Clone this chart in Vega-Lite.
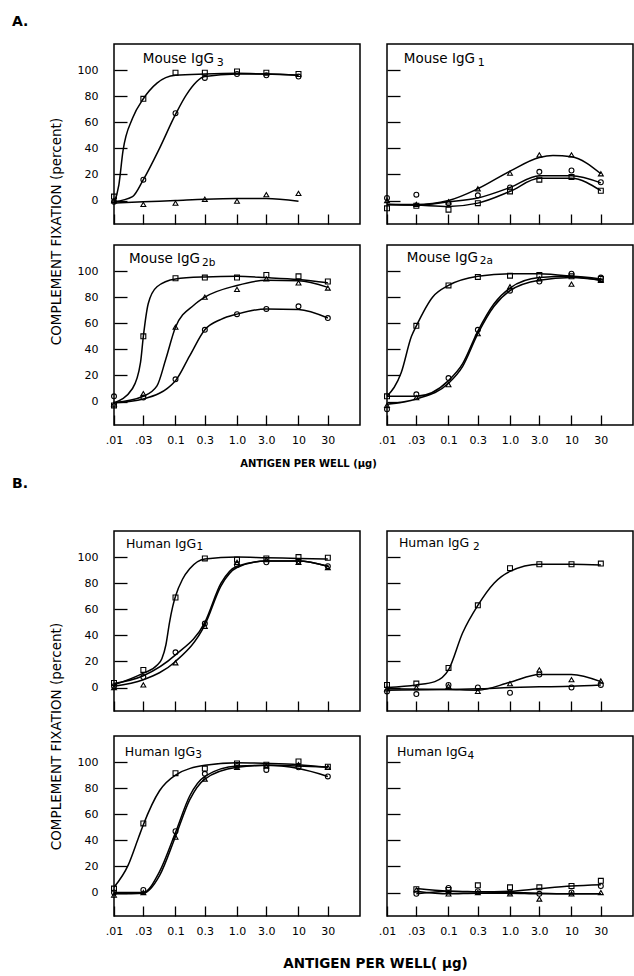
{
"$schema":"https://vega.github.io/schema/vega-lite/v6.json",
"padding":{"left":12,"top":14,"right":1,"bottom":2},
"datasets":{
"tags":[
{"panel":"A1","lab":"Mouse IgG","subs":"3"},{"panel":"A2","lab":"Mouse IgG","subs":"1"},{"panel":"A3","lab":"Mouse IgG","subs":"2b"},{"panel":"A4","lab":"Mouse IgG","subs":"2a"},
{"panel":"B1","lab":"Human IgG","subs":"1"},{"panel":"B2","lab":"Human IgG","subs":"2"},{"panel":"B3","lab":"Human IgG","subs":"3"},{"panel":"B4","lab":"Human IgG","subs":"4"}],
"pts":[
{"panel":"A1","series":"sq","dose":0.01,"pct":3},{"panel":"A1","series":"sq","dose":0.03,"pct":78},{"panel":"A1","series":"sq","dose":0.1,"pct":98},{"panel":"A1","series":"sq","dose":0.3,"pct":98},{"panel":"A1","series":"sq","dose":1,"pct":99},{"panel":"A1","series":"sq","dose":3,"pct":98},{"panel":"A1","series":"sq","dose":10,"pct":97},
{"panel":"A1","series":"ci","dose":0.01,"pct":-1},{"panel":"A1","series":"ci","dose":0.03,"pct":16},{"panel":"A1","series":"ci","dose":0.1,"pct":67},{"panel":"A1","series":"ci","dose":0.3,"pct":94},{"panel":"A1","series":"ci","dose":1,"pct":97},{"panel":"A1","series":"ci","dose":3,"pct":96},{"panel":"A1","series":"ci","dose":10,"pct":95},
{"panel":"A1","series":"tr","dose":0.01,"pct":0},{"panel":"A1","series":"tr","dose":0.03,"pct":-3},{"panel":"A1","series":"tr","dose":0.1,"pct":-2},{"panel":"A1","series":"tr","dose":0.3,"pct":1},{"panel":"A1","series":"tr","dose":1,"pct":-0.5},{"panel":"A1","series":"tr","dose":3,"pct":4.5},{"panel":"A1","series":"tr","dose":10,"pct":5.5},
{"panel":"A2","series":"tr","dose":0.01,"pct":0},{"panel":"A2","series":"tr","dose":0.03,"pct":-3},{"panel":"A2","series":"tr","dose":0.1,"pct":-1},{"panel":"A2","series":"tr","dose":0.3,"pct":9},{"panel":"A2","series":"tr","dose":1,"pct":21},{"panel":"A2","series":"tr","dose":3,"pct":35},{"panel":"A2","series":"tr","dose":10,"pct":35},{"panel":"A2","series":"tr","dose":30,"pct":20.5},
{"panel":"A2","series":"ci","dose":0.01,"pct":2},{"panel":"A2","series":"ci","dose":0.03,"pct":4.5},{"panel":"A2","series":"ci","dose":0.1,"pct":-2},{"panel":"A2","series":"ci","dose":0.3,"pct":4},{"panel":"A2","series":"ci","dose":1,"pct":10},{"panel":"A2","series":"ci","dose":3,"pct":22},{"panel":"A2","series":"ci","dose":10,"pct":23},{"panel":"A2","series":"ci","dose":30,"pct":14},
{"panel":"A2","series":"sq","dose":0.01,"pct":-6},{"panel":"A2","series":"sq","dose":0.03,"pct":-4},{"panel":"A2","series":"sq","dose":0.1,"pct":-7},{"panel":"A2","series":"sq","dose":0.3,"pct":-2},{"panel":"A2","series":"sq","dose":1,"pct":7},{"panel":"A2","series":"sq","dose":3,"pct":16},{"panel":"A2","series":"sq","dose":10,"pct":18},{"panel":"A2","series":"sq","dose":30,"pct":7.5},
{"panel":"A3","series":"sq","dose":0.01,"pct":-3},{"panel":"A3","series":"sq","dose":0.03,"pct":50},{"panel":"A3","series":"sq","dose":0.1,"pct":94.5},{"panel":"A3","series":"sq","dose":0.3,"pct":95},{"panel":"A3","series":"sq","dose":1,"pct":95},{"panel":"A3","series":"sq","dose":3,"pct":97},{"panel":"A3","series":"sq","dose":10,"pct":96},{"panel":"A3","series":"sq","dose":30,"pct":92},
{"panel":"A3","series":"tr","dose":0.01,"pct":-2},{"panel":"A3","series":"tr","dose":0.03,"pct":6},{"panel":"A3","series":"tr","dose":0.1,"pct":57},{"panel":"A3","series":"tr","dose":0.3,"pct":80},{"panel":"A3","series":"tr","dose":1,"pct":86},{"panel":"A3","series":"tr","dose":3,"pct":94},{"panel":"A3","series":"tr","dose":10,"pct":91},{"panel":"A3","series":"tr","dose":30,"pct":87},
{"panel":"A3","series":"ci","dose":0.01,"pct":4},{"panel":"A3","series":"ci","dose":0.03,"pct":3},{"panel":"A3","series":"ci","dose":0.1,"pct":17},{"panel":"A3","series":"ci","dose":0.3,"pct":55},{"panel":"A3","series":"ci","dose":1,"pct":67},{"panel":"A3","series":"ci","dose":3,"pct":71},{"panel":"A3","series":"ci","dose":10,"pct":73},{"panel":"A3","series":"ci","dose":30,"pct":64},
{"panel":"A4","series":"sq","dose":0.01,"pct":4},{"panel":"A4","series":"sq","dose":0.03,"pct":58},{"panel":"A4","series":"sq","dose":0.1,"pct":89},{"panel":"A4","series":"sq","dose":0.3,"pct":95.5},{"panel":"A4","series":"sq","dose":1,"pct":96.5},{"panel":"A4","series":"sq","dose":3,"pct":97},{"panel":"A4","series":"sq","dose":10,"pct":96},{"panel":"A4","series":"sq","dose":30,"pct":94},
{"panel":"A4","series":"ci","dose":0.01,"pct":-6},{"panel":"A4","series":"ci","dose":0.03,"pct":5.5},{"panel":"A4","series":"ci","dose":0.1,"pct":18},{"panel":"A4","series":"ci","dose":0.3,"pct":55},{"panel":"A4","series":"ci","dose":1,"pct":85},{"panel":"A4","series":"ci","dose":3,"pct":92},{"panel":"A4","series":"ci","dose":10,"pct":98},{"panel":"A4","series":"ci","dose":30,"pct":95},
{"panel":"A4","series":"tr","dose":0.01,"pct":-3},{"panel":"A4","series":"tr","dose":0.03,"pct":3},{"panel":"A4","series":"tr","dose":0.1,"pct":13},{"panel":"A4","series":"tr","dose":0.3,"pct":52},{"panel":"A4","series":"tr","dose":1,"pct":88},{"panel":"A4","series":"tr","dose":3,"pct":94},{"panel":"A4","series":"tr","dose":10,"pct":90},{"panel":"A4","series":"tr","dose":30,"pct":93},
{"panel":"B1","series":"sq","dose":0.01,"pct":3.5},{"panel":"B1","series":"sq","dose":0.03,"pct":13.5},{"panel":"B1","series":"sq","dose":0.1,"pct":69},{"panel":"B1","series":"sq","dose":0.3,"pct":99},{"panel":"B1","series":"sq","dose":1,"pct":98},{"panel":"B1","series":"sq","dose":3,"pct":99},{"panel":"B1","series":"sq","dose":10,"pct":100},{"panel":"B1","series":"sq","dose":30,"pct":99.5},
{"panel":"B1","series":"ci","dose":0.01,"pct":1},{"panel":"B1","series":"ci","dose":0.03,"pct":8},{"panel":"B1","series":"ci","dose":0.1,"pct":27},{"panel":"B1","series":"ci","dose":0.3,"pct":49},{"panel":"B1","series":"ci","dose":1,"pct":94},{"panel":"B1","series":"ci","dose":3,"pct":96},{"panel":"B1","series":"ci","dose":10,"pct":97},{"panel":"B1","series":"ci","dose":30,"pct":93},
{"panel":"B1","series":"tr","dose":0.01,"pct":0},{"panel":"B1","series":"tr","dose":0.03,"pct":2},{"panel":"B1","series":"tr","dose":0.1,"pct":19},{"panel":"B1","series":"tr","dose":0.3,"pct":47},{"panel":"B1","series":"tr","dose":1,"pct":96},{"panel":"B1","series":"tr","dose":3,"pct":98},{"panel":"B1","series":"tr","dose":10,"pct":96},{"panel":"B1","series":"tr","dose":30,"pct":92},
{"panel":"B2","series":"sq","dose":0.01,"pct":2},{"panel":"B2","series":"sq","dose":0.03,"pct":3},{"panel":"B2","series":"sq","dose":0.1,"pct":15},{"panel":"B2","series":"sq","dose":0.3,"pct":63},{"panel":"B2","series":"sq","dose":1,"pct":91.5},{"panel":"B2","series":"sq","dose":3,"pct":94.5},{"panel":"B2","series":"sq","dose":10,"pct":94.5},{"panel":"B2","series":"sq","dose":30,"pct":95},
{"panel":"B2","series":"tr","dose":0.01,"pct":-1},{"panel":"B2","series":"tr","dose":0.03,"pct":0},{"panel":"B2","series":"tr","dose":0.1,"pct":1},{"panel":"B2","series":"tr","dose":0.3,"pct":-3},{"panel":"B2","series":"tr","dose":1,"pct":3},{"panel":"B2","series":"tr","dose":3,"pct":13.5},{"panel":"B2","series":"tr","dose":10,"pct":6},{"panel":"B2","series":"tr","dose":30,"pct":5},
{"panel":"B2","series":"ci","dose":0.01,"pct":-3},{"panel":"B2","series":"ci","dose":0.03,"pct":-5},{"panel":"B2","series":"ci","dose":0.1,"pct":2},{"panel":"B2","series":"ci","dose":0.3,"pct":0},{"panel":"B2","series":"ci","dose":1,"pct":-4},{"panel":"B2","series":"ci","dose":3,"pct":10},{"panel":"B2","series":"ci","dose":10,"pct":0},{"panel":"B2","series":"ci","dose":30,"pct":2},
{"panel":"B3","series":"sq","dose":0.01,"pct":3},{"panel":"B3","series":"sq","dose":0.03,"pct":53},{"panel":"B3","series":"sq","dose":0.1,"pct":91.5},{"panel":"B3","series":"sq","dose":0.3,"pct":95},{"panel":"B3","series":"sq","dose":1,"pct":99},{"panel":"B3","series":"sq","dose":3,"pct":98},{"panel":"B3","series":"sq","dose":10,"pct":100.5},{"panel":"B3","series":"sq","dose":30,"pct":96.5},
{"panel":"B3","series":"ci","dose":0.01,"pct":0},{"panel":"B3","series":"ci","dose":0.03,"pct":2},{"panel":"B3","series":"ci","dose":0.1,"pct":47},{"panel":"B3","series":"ci","dose":0.3,"pct":91},{"panel":"B3","series":"ci","dose":1,"pct":97},{"panel":"B3","series":"ci","dose":3,"pct":94},{"panel":"B3","series":"ci","dose":10,"pct":96},{"panel":"B3","series":"ci","dose":30,"pct":89},
{"panel":"B3","series":"tr","dose":0.01,"pct":-2},{"panel":"B3","series":"tr","dose":0.03,"pct":0},{"panel":"B3","series":"tr","dose":0.1,"pct":42.5},{"panel":"B3","series":"tr","dose":0.3,"pct":87},{"panel":"B3","series":"tr","dose":1,"pct":96},{"panel":"B3","series":"tr","dose":3,"pct":97},{"panel":"B3","series":"tr","dose":10,"pct":98},{"panel":"B3","series":"tr","dose":30,"pct":96},
{"panel":"B4","series":"sq","dose":0.03,"pct":2.5},{"panel":"B4","series":"sq","dose":0.1,"pct":2},{"panel":"B4","series":"sq","dose":0.3,"pct":5.5},{"panel":"B4","series":"sq","dose":1,"pct":4},{"panel":"B4","series":"sq","dose":3,"pct":4},{"panel":"B4","series":"sq","dose":10,"pct":5},{"panel":"B4","series":"sq","dose":30,"pct":9},
{"panel":"B4","series":"ci","dose":0.03,"pct":-1},{"panel":"B4","series":"ci","dose":0.1,"pct":3.5},{"panel":"B4","series":"ci","dose":0.3,"pct":1},{"panel":"B4","series":"ci","dose":1,"pct":0},{"panel":"B4","series":"ci","dose":3,"pct":-1},{"panel":"B4","series":"ci","dose":10,"pct":0},{"panel":"B4","series":"ci","dose":30,"pct":5},
{"panel":"B4","series":"tr","dose":0.03,"pct":2},{"panel":"B4","series":"tr","dose":0.1,"pct":-1},{"panel":"B4","series":"tr","dose":0.3,"pct":0},{"panel":"B4","series":"tr","dose":1,"pct":-1},{"panel":"B4","series":"tr","dose":3,"pct":-5},{"panel":"B4","series":"tr","dose":10,"pct":-1},{"panel":"B4","series":"tr","dose":30,"pct":0}
],
"curves":[
{"panel":"A1","series":"sq","dose":0.01,"pct":-2},{"panel":"A1","series":"sq","dose":0.012,"pct":12},{"panel":"A1","series":"sq","dose":0.014,"pct":38},{"panel":"A1","series":"sq","dose":0.02,"pct":63},{"panel":"A1","series":"sq","dose":0.03,"pct":78},{"panel":"A1","series":"sq","dose":0.05,"pct":90},{"panel":"A1","series":"sq","dose":0.1,"pct":96},{"panel":"A1","series":"sq","dose":0.3,"pct":97},{"panel":"A1","series":"sq","dose":1,"pct":97.5},{"panel":"A1","series":"sq","dose":3,"pct":97},{"panel":"A1","series":"sq","dose":10,"pct":96},
{"panel":"A1","series":"ci","dose":0.01,"pct":-1},{"panel":"A1","series":"ci","dose":0.02,"pct":3},{"panel":"A1","series":"ci","dose":0.03,"pct":16},{"panel":"A1","series":"ci","dose":0.055,"pct":40},{"panel":"A1","series":"ci","dose":0.1,"pct":66},{"panel":"A1","series":"ci","dose":0.15,"pct":81},{"panel":"A1","series":"ci","dose":0.3,"pct":95},{"panel":"A1","series":"ci","dose":1,"pct":97},{"panel":"A1","series":"ci","dose":3,"pct":97},{"panel":"A1","series":"ci","dose":10,"pct":96},
{"panel":"A1","series":"tr","dose":0.01,"pct":-2},{"panel":"A1","series":"tr","dose":0.03,"pct":-1},{"panel":"A1","series":"tr","dose":0.1,"pct":0},{"panel":"A1","series":"tr","dose":0.3,"pct":1},{"panel":"A1","series":"tr","dose":1,"pct":1.5},{"panel":"A1","series":"tr","dose":3,"pct":1.5},{"panel":"A1","series":"tr","dose":10,"pct":-0.5},
{"panel":"A2","series":"tr","dose":0.01,"pct":-3},{"panel":"A2","series":"tr","dose":0.03,"pct":-3},{"panel":"A2","series":"tr","dose":0.1,"pct":0},{"panel":"A2","series":"tr","dose":0.3,"pct":9},{"panel":"A2","series":"tr","dose":1,"pct":22.5},{"panel":"A2","series":"tr","dose":3,"pct":33},{"panel":"A2","series":"tr","dose":5,"pct":34.5},{"panel":"A2","series":"tr","dose":10,"pct":33.5},{"panel":"A2","series":"tr","dose":30,"pct":20.5},
{"panel":"A2","series":"ci","dose":0.01,"pct":-3},{"panel":"A2","series":"ci","dose":0.03,"pct":-3.5},{"panel":"A2","series":"ci","dose":0.1,"pct":-1},{"panel":"A2","series":"ci","dose":0.3,"pct":2},{"panel":"A2","series":"ci","dose":1,"pct":10},{"panel":"A2","series":"ci","dose":3,"pct":19},{"panel":"A2","series":"ci","dose":10,"pct":19},{"panel":"A2","series":"ci","dose":30,"pct":13.5},
{"panel":"A2","series":"sq","dose":0.01,"pct":-3},{"panel":"A2","series":"sq","dose":0.03,"pct":-3.5},{"panel":"A2","series":"sq","dose":0.1,"pct":-4.5},{"panel":"A2","series":"sq","dose":0.3,"pct":-2},{"panel":"A2","series":"sq","dose":1,"pct":7},{"panel":"A2","series":"sq","dose":3,"pct":17},{"panel":"A2","series":"sq","dose":10,"pct":17},{"panel":"A2","series":"sq","dose":30,"pct":7.5},
{"panel":"A3","series":"sq","dose":0.01,"pct":-1},{"panel":"A3","series":"sq","dose":0.02,"pct":10},{"panel":"A3","series":"sq","dose":0.027,"pct":30},{"panel":"A3","series":"sq","dose":0.03,"pct":50},{"panel":"A3","series":"sq","dose":0.036,"pct":75},{"panel":"A3","series":"sq","dose":0.05,"pct":88},{"panel":"A3","series":"sq","dose":0.1,"pct":94},{"panel":"A3","series":"sq","dose":0.3,"pct":95.5},{"panel":"A3","series":"sq","dose":1,"pct":96},{"panel":"A3","series":"sq","dose":3,"pct":95},{"panel":"A3","series":"sq","dose":10,"pct":93.5},{"panel":"A3","series":"sq","dose":30,"pct":91},
{"panel":"A3","series":"tr","dose":0.01,"pct":-1},{"panel":"A3","series":"tr","dose":0.03,"pct":4},{"panel":"A3","series":"tr","dose":0.05,"pct":12},{"panel":"A3","series":"tr","dose":0.07,"pct":33},{"panel":"A3","series":"tr","dose":0.1,"pct":57},{"panel":"A3","series":"tr","dose":0.2,"pct":74},{"panel":"A3","series":"tr","dose":0.3,"pct":80},{"panel":"A3","series":"tr","dose":1,"pct":89},{"panel":"A3","series":"tr","dose":3,"pct":93},{"panel":"A3","series":"tr","dose":10,"pct":92.5},{"panel":"A3","series":"tr","dose":30,"pct":87.5},
{"panel":"A3","series":"ci","dose":0.01,"pct":-1},{"panel":"A3","series":"ci","dose":0.03,"pct":2},{"panel":"A3","series":"ci","dose":0.1,"pct":16},{"panel":"A3","series":"ci","dose":0.17,"pct":35},{"panel":"A3","series":"ci","dose":0.3,"pct":55},{"panel":"A3","series":"ci","dose":0.55,"pct":63},{"panel":"A3","series":"ci","dose":1,"pct":67},{"panel":"A3","series":"ci","dose":3,"pct":71},{"panel":"A3","series":"ci","dose":10,"pct":70.5},{"panel":"A3","series":"ci","dose":30,"pct":64},
{"panel":"A4","series":"sq","dose":0.01,"pct":4},{"panel":"A4","series":"sq","dose":0.017,"pct":22},{"panel":"A4","series":"sq","dose":0.025,"pct":50},{"panel":"A4","series":"sq","dose":0.03,"pct":58},{"panel":"A4","series":"sq","dose":0.055,"pct":80},{"panel":"A4","series":"sq","dose":0.1,"pct":89},{"panel":"A4","series":"sq","dose":0.3,"pct":96},{"panel":"A4","series":"sq","dose":1,"pct":98},{"panel":"A4","series":"sq","dose":3,"pct":98},{"panel":"A4","series":"sq","dose":10,"pct":96},{"panel":"A4","series":"sq","dose":30,"pct":93},
{"panel":"A4","series":"ci","dose":0.01,"pct":4},{"panel":"A4","series":"ci","dose":0.03,"pct":4},{"panel":"A4","series":"ci","dose":0.1,"pct":16},{"panel":"A4","series":"ci","dose":0.17,"pct":29},{"panel":"A4","series":"ci","dose":0.3,"pct":54},{"panel":"A4","series":"ci","dose":0.55,"pct":75},{"panel":"A4","series":"ci","dose":1,"pct":87},{"panel":"A4","series":"ci","dose":3,"pct":95},{"panel":"A4","series":"ci","dose":10,"pct":96},{"panel":"A4","series":"ci","dose":30,"pct":94},
{"panel":"A4","series":"tr","dose":0.01,"pct":-2},{"panel":"A4","series":"tr","dose":0.03,"pct":2},{"panel":"A4","series":"tr","dose":0.1,"pct":14},{"panel":"A4","series":"tr","dose":0.17,"pct":27},{"panel":"A4","series":"tr","dose":0.3,"pct":52},{"panel":"A4","series":"tr","dose":0.55,"pct":73},{"panel":"A4","series":"tr","dose":1,"pct":85},{"panel":"A4","series":"tr","dose":3,"pct":93},{"panel":"A4","series":"tr","dose":10,"pct":95},{"panel":"A4","series":"tr","dose":30,"pct":93},
{"panel":"B1","series":"sq","dose":0.01,"pct":2},{"panel":"B1","series":"sq","dose":0.03,"pct":11},{"panel":"B1","series":"sq","dose":0.05,"pct":17},{"panel":"B1","series":"sq","dose":0.06,"pct":22},{"panel":"B1","series":"sq","dose":0.07,"pct":33},{"panel":"B1","series":"sq","dose":0.08,"pct":50},{"panel":"B1","series":"sq","dose":0.09,"pct":62},{"panel":"B1","series":"sq","dose":0.1,"pct":70},{"panel":"B1","series":"sq","dose":0.13,"pct":83},{"panel":"B1","series":"sq","dose":0.17,"pct":91},{"panel":"B1","series":"sq","dose":0.3,"pct":98.5},{"panel":"B1","series":"sq","dose":1,"pct":100},{"panel":"B1","series":"sq","dose":3,"pct":99.5},{"panel":"B1","series":"sq","dose":10,"pct":99},{"panel":"B1","series":"sq","dose":30,"pct":98.5},
{"panel":"B1","series":"ci","dose":0.01,"pct":3},{"panel":"B1","series":"ci","dose":0.03,"pct":9},{"panel":"B1","series":"ci","dose":0.1,"pct":25},{"panel":"B1","series":"ci","dose":0.3,"pct":50},{"panel":"B1","series":"ci","dose":0.55,"pct":80},{"panel":"B1","series":"ci","dose":1,"pct":93},{"panel":"B1","series":"ci","dose":3,"pct":97},{"panel":"B1","series":"ci","dose":10,"pct":97},{"panel":"B1","series":"ci","dose":30,"pct":93},
{"panel":"B1","series":"tr","dose":0.01,"pct":1},{"panel":"B1","series":"tr","dose":0.03,"pct":6},{"panel":"B1","series":"tr","dose":0.1,"pct":20},{"panel":"B1","series":"tr","dose":0.3,"pct":48},{"panel":"B1","series":"tr","dose":0.55,"pct":78},{"panel":"B1","series":"tr","dose":1,"pct":92},{"panel":"B1","series":"tr","dose":3,"pct":97},{"panel":"B1","series":"tr","dose":10,"pct":97},{"panel":"B1","series":"tr","dose":30,"pct":93},
{"panel":"B2","series":"sq","dose":0.01,"pct":0},{"panel":"B2","series":"sq","dose":0.03,"pct":2},{"panel":"B2","series":"sq","dose":0.06,"pct":4.5},{"panel":"B2","series":"sq","dose":0.1,"pct":13.5},{"panel":"B2","series":"sq","dose":0.17,"pct":42},{"panel":"B2","series":"sq","dose":0.3,"pct":63},{"panel":"B2","series":"sq","dose":0.55,"pct":80},{"panel":"B2","series":"sq","dose":1,"pct":89},{"panel":"B2","series":"sq","dose":3,"pct":94.5},{"panel":"B2","series":"sq","dose":10,"pct":94.5},{"panel":"B2","series":"sq","dose":30,"pct":94},
{"panel":"B2","series":"tr","dose":0.01,"pct":-1},{"panel":"B2","series":"tr","dose":0.1,"pct":-1.5},{"panel":"B2","series":"tr","dose":0.3,"pct":-2},{"panel":"B2","series":"tr","dose":1,"pct":4},{"panel":"B2","series":"tr","dose":3,"pct":10},{"panel":"B2","series":"tr","dose":10,"pct":10},{"panel":"B2","series":"tr","dose":30,"pct":4.5},
{"panel":"B2","series":"ci","dose":0.01,"pct":-2},{"panel":"B2","series":"ci","dose":0.3,"pct":-1},{"panel":"B2","series":"ci","dose":1,"pct":0},{"panel":"B2","series":"ci","dose":3,"pct":0.5},{"panel":"B2","series":"ci","dose":10,"pct":1},{"panel":"B2","series":"ci","dose":30,"pct":2},
{"panel":"B3","series":"sq","dose":0.01,"pct":4},{"panel":"B3","series":"sq","dose":0.017,"pct":21},{"panel":"B3","series":"sq","dose":0.025,"pct":42},{"panel":"B3","series":"sq","dose":0.03,"pct":52},{"panel":"B3","series":"sq","dose":0.055,"pct":78},{"panel":"B3","series":"sq","dose":0.1,"pct":90},{"panel":"B3","series":"sq","dose":0.3,"pct":97.5},{"panel":"B3","series":"sq","dose":1,"pct":99.5},{"panel":"B3","series":"sq","dose":3,"pct":99},{"panel":"B3","series":"sq","dose":10,"pct":98},{"panel":"B3","series":"sq","dose":30,"pct":96},
{"panel":"B3","series":"ci","dose":0.01,"pct":0},{"panel":"B3","series":"ci","dose":0.03,"pct":0},{"panel":"B3","series":"ci","dose":0.055,"pct":16},{"panel":"B3","series":"ci","dose":0.1,"pct":46},{"panel":"B3","series":"ci","dose":0.17,"pct":74},{"panel":"B3","series":"ci","dose":0.3,"pct":89},{"panel":"B3","series":"ci","dose":1,"pct":97},{"panel":"B3","series":"ci","dose":3,"pct":97.5},{"panel":"B3","series":"ci","dose":10,"pct":95},{"panel":"B3","series":"ci","dose":30,"pct":89},
{"panel":"B3","series":"tr","dose":0.01,"pct":-1},{"panel":"B3","series":"tr","dose":0.03,"pct":-0.5},{"panel":"B3","series":"tr","dose":0.055,"pct":13},{"panel":"B3","series":"tr","dose":0.1,"pct":43},{"panel":"B3","series":"tr","dose":0.17,"pct":71},{"panel":"B3","series":"tr","dose":0.3,"pct":87},{"panel":"B3","series":"tr","dose":1,"pct":96},{"panel":"B3","series":"tr","dose":3,"pct":97.5},{"panel":"B3","series":"tr","dose":10,"pct":97},{"panel":"B3","series":"tr","dose":30,"pct":96},
{"panel":"B4","series":"sq","dose":0.03,"pct":3},{"panel":"B4","series":"sq","dose":0.1,"pct":1},{"panel":"B4","series":"sq","dose":0.3,"pct":0.5},{"panel":"B4","series":"sq","dose":1,"pct":1},{"panel":"B4","series":"sq","dose":3,"pct":3},{"panel":"B4","series":"sq","dose":10,"pct":5},{"panel":"B4","series":"sq","dose":30,"pct":6},
{"panel":"B4","series":"ci","dose":0.03,"pct":-1},{"panel":"B4","series":"ci","dose":0.1,"pct":1},{"panel":"B4","series":"ci","dose":0.3,"pct":0.5},{"panel":"B4","series":"ci","dose":1,"pct":0},{"panel":"B4","series":"ci","dose":3,"pct":-0.5},{"panel":"B4","series":"ci","dose":10,"pct":-1},{"panel":"B4","series":"ci","dose":30,"pct":-1},
{"panel":"B4","series":"tr","dose":0.03,"pct":1},{"panel":"B4","series":"tr","dose":0.1,"pct":-1},{"panel":"B4","series":"tr","dose":0.3,"pct":-0.5},{"panel":"B4","series":"tr","dose":1,"pct":-0.5},{"panel":"B4","series":"tr","dose":3,"pct":-1},{"panel":"B4","series":"tr","dose":10,"pct":-1},{"panel":"B4","series":"tr","dose":30,"pct":-1}
]
},
"spacing":7,
"vconcat":[
{
"title":{"text":"A.","anchor":"start","frame":"group","dx":-102,"offset":3.5,"fontSize":14,"fontWeight":"bold","baseline":"alphabetic"},
"columns":2,"bounds":"flush","spacing":{"row":21,"column":27},
"concat":[
{"width":246,"height":180,
"layer":[
{"data":{"name":"curves"},"transform":[{"filter":"datum.panel==='A1'"}],"mark":"line","encoding":{"x":{"field":"dose","type":"quantitative","scale":{"type":"log","domain":[0.01,100]},"axis":{"values":[0.01,0.03,0.1,0.3,1,3,10,30],"tickCount":20,"labels":false,"title":null}},
"y":{"field":"pct","type":"quantitative","scale":{"domain":[-18,120],"nice":false,"zero":false},"axis":{"values":[0,20,40,60,80,100],"tickCount":20,"title":"COMPLEMENT FIXATION (percent)","titleX":-58,"titleY":187,"titleAngle":-90,"titleAlign":"center","titleBaseline":"middle","titleFontSize":13.5,"titleFontWeight":"normal"}},"detail":{"field":"series"}}},
{"data":{"name":"pts"},"transform":[{"filter":"datum.panel==='A1'"}],"mark":"point","encoding":{"x":{"field":"dose","type":"quantitative"},"y":{"field":"pct","type":"quantitative"},"shape":{"field":"series"}}},
{"data":{"name":"tags"},"transform":[{"filter":"datum.panel==='A1'"}],"mark":{"type":"text","align":"left","baseline":"alphabetic","fontSize":13.5},"encoding":{"x":{"datum":0.0294},"y":{"datum":105.4},"text":{"field":"lab"}}},
{"data":{"name":"tags"},"transform":[{"filter":"datum.panel==='A1'"}],"mark":{"type":"text","align":"left","baseline":"alphabetic","fontSize":11,"dx":74,"dy":3},"encoding":{"x":{"datum":0.0294},"y":{"datum":105.4},"text":{"field":"subs"}}}
]},
{"width":246,"height":180,
"layer":[
{"data":{"name":"curves"},"transform":[{"filter":"datum.panel==='A2'"}],"mark":"line","encoding":{"x":{"field":"dose","type":"quantitative","scale":{"type":"log","domain":[0.01,100]},"axis":{"values":[0.01,0.03,0.1,0.3,1,3,10,30],"tickCount":20,"labels":false,"title":null}},
"y":{"field":"pct","type":"quantitative","scale":{"domain":[-18,120],"nice":false,"zero":false},"axis":{"values":[0,20,40,60,80,100],"tickCount":20,"labels":false,"title":null}},"detail":{"field":"series"}}},
{"data":{"name":"pts"},"transform":[{"filter":"datum.panel==='A2'"}],"mark":"point","encoding":{"x":{"field":"dose","type":"quantitative"},"y":{"field":"pct","type":"quantitative"},"shape":{"field":"series"}}},
{"data":{"name":"tags"},"transform":[{"filter":"datum.panel==='A2'"}],"mark":{"type":"text","align":"left","baseline":"alphabetic","fontSize":13.5},"encoding":{"x":{"datum":0.0188},"y":{"datum":105.4},"text":{"field":"lab"}}},
{"data":{"name":"tags"},"transform":[{"filter":"datum.panel==='A2'"}],"mark":{"type":"text","align":"left","baseline":"alphabetic","fontSize":11,"dx":74,"dy":3},"encoding":{"x":{"datum":0.0188},"y":{"datum":105.4},"text":{"field":"subs"}}}
]},
{"width":246,"height":180,
"layer":[
{"data":{"name":"curves"},"transform":[{"filter":"datum.panel==='A3'"}],"mark":"line","encoding":{"x":{"field":"dose","type":"quantitative","scale":{"type":"log","domain":[0.01,100]},"axis":{"values":[0.01,0.03,0.1,0.3,1,3,10,30],"tickCount":20,"labelExpr":"datum.value < 0.05 ? replace(format(datum.value, '.2f'), '0.', '.') : datum.value < 10 ? format(datum.value, '.1f') : format(datum.value, 'd')","labelOverlap":false,"labelFlush":false,"title":"ANTIGEN PER WELL (μg)","titleX":194,"titleY":38,"titleAlign":"center","titleBaseline":"middle","titleFontSize":10,"titleFontWeight":"bold"}},
"y":{"field":"pct","type":"quantitative","scale":{"domain":[-18,120],"nice":false,"zero":false},"axis":{"values":[0,20,40,60,80,100],"tickCount":20,"title":null}},"detail":{"field":"series"}}},
{"data":{"name":"pts"},"transform":[{"filter":"datum.panel==='A3'"}],"mark":"point","encoding":{"x":{"field":"dose","type":"quantitative"},"y":{"field":"pct","type":"quantitative"},"shape":{"field":"series"}}},
{"data":{"name":"tags"},"transform":[{"filter":"datum.panel==='A3'"}],"mark":{"type":"text","align":"left","baseline":"alphabetic","fontSize":13.5},"encoding":{"x":{"datum":0.0175},"y":{"datum":106.2},"text":{"field":"lab"}}},
{"data":{"name":"tags"},"transform":[{"filter":"datum.panel==='A3'"}],"mark":{"type":"text","align":"left","baseline":"alphabetic","fontSize":10.5,"dx":73,"dy":2.5},"encoding":{"x":{"datum":0.0175},"y":{"datum":106.2},"text":{"field":"subs"}}}
]},
{"width":246,"height":180,
"layer":[
{"data":{"name":"curves"},"transform":[{"filter":"datum.panel==='A4'"}],"mark":"line","encoding":{"x":{"field":"dose","type":"quantitative","scale":{"type":"log","domain":[0.01,100]},"axis":{"values":[0.01,0.03,0.1,0.3,1,3,10,30],"tickCount":20,"labelExpr":"datum.value < 0.05 ? replace(format(datum.value, '.2f'), '0.', '.') : datum.value < 10 ? format(datum.value, '.1f') : format(datum.value, 'd')","labelOverlap":false,"labelFlush":false,"title":null}},
"y":{"field":"pct","type":"quantitative","scale":{"domain":[-18,120],"nice":false,"zero":false},"axis":{"values":[0,20,40,60,80,100],"tickCount":20,"labels":false,"title":null}},"detail":{"field":"series"}}},
{"data":{"name":"pts"},"transform":[{"filter":"datum.panel==='A4'"}],"mark":"point","encoding":{"x":{"field":"dose","type":"quantitative"},"y":{"field":"pct","type":"quantitative"},"shape":{"field":"series"}}},
{"data":{"name":"tags"},"transform":[{"filter":"datum.panel==='A4'"}],"mark":{"type":"text","align":"left","baseline":"alphabetic","fontSize":13.5},"encoding":{"x":{"datum":0.021},"y":{"datum":107},"text":{"field":"lab"}}},
{"data":{"name":"tags"},"transform":[{"filter":"datum.panel==='A4'"}],"mark":{"type":"text","align":"left","baseline":"alphabetic","fontSize":10.5,"dx":73,"dy":2.5},"encoding":{"x":{"datum":0.021},"y":{"datum":107},"text":{"field":"subs"}}}
]}
]
},
{
"title":{"text":"B.","anchor":"start","frame":"group","dx":-102,"offset":28.5,"fontSize":14,"fontWeight":"bold","baseline":"alphabetic"},
"columns":2,"bounds":"flush","spacing":{"row":25,"column":27},
"concat":[
{"width":246,"height":180,
"layer":[
{"data":{"name":"curves"},"transform":[{"filter":"datum.panel==='B1'"}],"mark":"line","encoding":{"x":{"field":"dose","type":"quantitative","scale":{"type":"log","domain":[0.01,100]},"axis":{"values":[0.01,0.03,0.1,0.3,1,3,10,30],"tickCount":20,"labels":false,"title":null}},
"y":{"field":"pct","type":"quantitative","scale":{"domain":[-18,120],"nice":false,"zero":false},"axis":{"values":[0,20,40,60,80,100],"tickCount":20,"title":"COMPLEMENT FIXATION (percent)","titleX":-58,"titleY":205,"titleAngle":-90,"titleAlign":"center","titleBaseline":"middle","titleFontSize":13.5,"titleFontWeight":"normal"}},"detail":{"field":"series"}}},
{"data":{"name":"pts"},"transform":[{"filter":"datum.panel==='B1'"}],"mark":"point","encoding":{"x":{"field":"dose","type":"quantitative"},"y":{"field":"pct","type":"quantitative"},"shape":{"field":"series"}}},
{"data":{"name":"tags"},"transform":[{"filter":"datum.panel==='B1'"}],"mark":{"type":"text","align":"left","baseline":"alphabetic","fontSize":12.5},"encoding":{"x":{"datum":0.0156},"y":{"datum":107},"text":{"field":"lab"}}},
{"data":{"name":"tags"},"transform":[{"filter":"datum.panel==='B1'"}],"mark":{"type":"text","align":"left","baseline":"alphabetic","fontSize":10.5,"dx":70.5,"dy":2.5},"encoding":{"x":{"datum":0.0156},"y":{"datum":107},"text":{"field":"subs"}}}
]},
{"width":246,"height":180,
"layer":[
{"data":{"name":"curves"},"transform":[{"filter":"datum.panel==='B2'"}],"mark":"line","encoding":{"x":{"field":"dose","type":"quantitative","scale":{"type":"log","domain":[0.01,100]},"axis":{"values":[0.01,0.03,0.1,0.3,1,3,10,30],"tickCount":20,"labels":false,"title":null}},
"y":{"field":"pct","type":"quantitative","scale":{"domain":[-18,120],"nice":false,"zero":false},"axis":{"values":[0,20,40,60,80,100],"tickCount":20,"labels":false,"title":null}},"detail":{"field":"series"}}},
{"data":{"name":"pts"},"transform":[{"filter":"datum.panel==='B2'"}],"mark":"point","encoding":{"x":{"field":"dose","type":"quantitative"},"y":{"field":"pct","type":"quantitative"},"shape":{"field":"series"}}},
{"data":{"name":"tags"},"transform":[{"filter":"datum.panel==='B2'"}],"mark":{"type":"text","align":"left","baseline":"alphabetic","fontSize":12.5},"encoding":{"x":{"datum":0.0156},"y":{"datum":107.7},"text":{"field":"lab"}}},
{"data":{"name":"tags"},"transform":[{"filter":"datum.panel==='B2'"}],"mark":{"type":"text","align":"left","baseline":"alphabetic","fontSize":10.5,"dx":74,"dy":3},"encoding":{"x":{"datum":0.0156},"y":{"datum":107.7},"text":{"field":"subs"}}}
]},
{"width":246,"height":180,
"layer":[
{"data":{"name":"curves"},"transform":[{"filter":"datum.panel==='B3'"}],"mark":"line","encoding":{"x":{"field":"dose","type":"quantitative","scale":{"type":"log","domain":[0.01,100]},"axis":{"values":[0.01,0.03,0.1,0.3,1,3,10,30],"tickCount":20,"labelExpr":"datum.value < 0.05 ? replace(format(datum.value, '.2f'), '0.', '.') : datum.value < 10 ? format(datum.value, '.1f') : format(datum.value, 'd')","labelOverlap":false,"labelFlush":false,"title":"ANTIGEN PER WELL( μg)","titleX":261,"titleY":47,"titleAlign":"center","titleBaseline":"middle","titleFontSize":13.5,"titleFontWeight":"bold"}},
"y":{"field":"pct","type":"quantitative","scale":{"domain":[-18,120],"nice":false,"zero":false},"axis":{"values":[0,20,40,60,80,100],"tickCount":20,"title":null}},"detail":{"field":"series"}}},
{"data":{"name":"pts"},"transform":[{"filter":"datum.panel==='B3'"}],"mark":"point","encoding":{"x":{"field":"dose","type":"quantitative"},"y":{"field":"pct","type":"quantitative"},"shape":{"field":"series"}}},
{"data":{"name":"tags"},"transform":[{"filter":"datum.panel==='B3'"}],"mark":{"type":"text","align":"left","baseline":"alphabetic","fontSize":12.5},"encoding":{"x":{"datum":0.015},"y":{"datum":105},"text":{"field":"lab"}}},
{"data":{"name":"tags"},"transform":[{"filter":"datum.panel==='B3'"}],"mark":{"type":"text","align":"left","baseline":"alphabetic","fontSize":10.5,"dx":70.5,"dy":2.5},"encoding":{"x":{"datum":0.015},"y":{"datum":105},"text":{"field":"subs"}}}
]},
{"width":246,"height":180,
"layer":[
{"data":{"name":"curves"},"transform":[{"filter":"datum.panel==='B4'"}],"mark":"line","encoding":{"x":{"field":"dose","type":"quantitative","scale":{"type":"log","domain":[0.01,100]},"axis":{"values":[0.01,0.03,0.1,0.3,1,3,10,30],"tickCount":20,"labelExpr":"datum.value < 0.05 ? replace(format(datum.value, '.2f'), '0.', '.') : datum.value < 10 ? format(datum.value, '.1f') : format(datum.value, 'd')","labelOverlap":false,"labelFlush":false,"title":null}},
"y":{"field":"pct","type":"quantitative","scale":{"domain":[-18,120],"nice":false,"zero":false},"axis":{"values":[0,20,40,60,80,100],"tickCount":20,"labels":false,"title":null}},"detail":{"field":"series"}}},
{"data":{"name":"pts"},"transform":[{"filter":"datum.panel==='B4'"}],"mark":"point","encoding":{"x":{"field":"dose","type":"quantitative"},"y":{"field":"pct","type":"quantitative"},"shape":{"field":"series"}}},
{"data":{"name":"tags"},"transform":[{"filter":"datum.panel==='B4'"}],"mark":{"type":"text","align":"left","baseline":"alphabetic","fontSize":12.5},"encoding":{"x":{"datum":0.0145},"y":{"datum":104.3},"text":{"field":"lab"}}},
{"data":{"name":"tags"},"transform":[{"filter":"datum.panel==='B4'"}],"mark":{"type":"text","align":"left","baseline":"alphabetic","fontSize":10.5,"dx":70.5,"dy":2.5},"encoding":{"x":{"datum":0.0145},"y":{"datum":104.3},"text":{"field":"subs"}}}
]}
]
}
],
"config":{
"font":"DejaVu Sans",
"view":{"stroke":"black","strokeWidth":1.5},
"legend":{"disable":true},
"range":{"symbol":["circle","square","triangle-up"]},
"axis":{"grid":false,"domain":false,"tickColor":"black","tickWidth":1.3,"labelColor":"black","labelFontSize":11,"titleColor":"black","labelFont":"DejaVu Sans","titleFont":"DejaVu Sans"},
"axisX":{"tickSize":-10,"labelPadding":19.5},
"axisY":{"tickSize":-13,"labelPadding":29},
"line":{"color":"black","strokeWidth":1.5,"interpolate":"monotone"},
"point":{"color":"black","filled":false,"size":24,"strokeWidth":1.1,"opacity":1},
"text":{"color":"black"},
"title":{"color":"black"}
}
}
